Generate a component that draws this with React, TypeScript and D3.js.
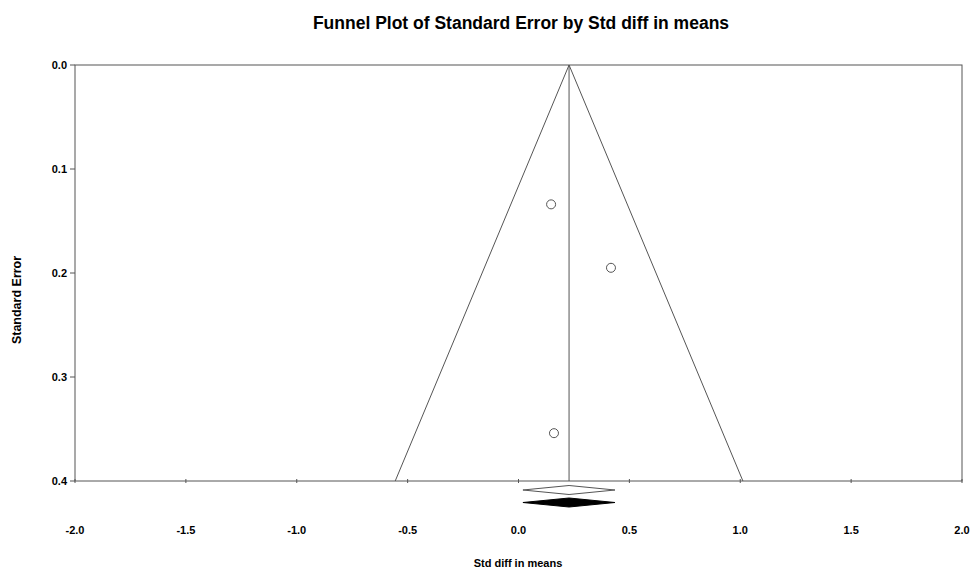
import React from "react";
import * as d3 from "d3";

const xTicks = [-2.0, -1.5, -1.0, -0.5, 0.0, 0.5, 1.0, 1.5, 2.0];
const yTicks = [0.0, 0.1, 0.2, 0.3, 0.4];
const studyEffects = [0.147, 0.417, 0.16];
const studySE = [0.134, 0.195, 0.354];
const pooledEffect = 0.228;
const pooledLower = 0.02;
const pooledUpper = 0.435;
const maxSE = 0.4;

export default function App() {
  const W = 970, H = 569;
  const x = d3.scaleLinear().domain([-2, 2]).range([75, 962]);
  const y = d3.scaleLinear().domain([0, 0.4]).range([65, 481]);
  const font = "Liberation Sans, Arial, sans-serif";
  const stroke = "#555";
  const funnel = [
    [x(pooledEffect - 1.96 * maxSE), y(maxSE)],
    [x(pooledEffect), y(0)],
    [x(pooledEffect + 1.96 * maxSE), y(maxSE)],
  ];
  const line = d3.line();
  const diamond = (cy: number, h: number) =>
    `M${x(pooledLower)},${cy} L${x(pooledEffect)},${cy - h} L${x(pooledUpper)},${cy} L${x(pooledEffect)},${cy + h} Z`;
  return (
    <svg width={W} height={H} style={{ position: "absolute", left: 0, top: 0 }}>
      <rect width={W} height={H} fill="#fff" />
      <text x={521} y={29} textAnchor="middle" fontFamily={font} fontWeight="bold" fontSize={17.5}>
        Funnel Plot of Standard Error by Std diff in means
      </text>
      <rect x={x(-2)} y={y(0)} width={x(2) - x(-2)} height={y(0.4) - y(0)} fill="none" stroke={stroke} strokeWidth={1} />
      {yTicks.map((t) => (
        <g key={t}>
          <line x1={x(-2) - 5} x2={x(-2)} y1={y(t)} y2={y(t)} stroke={stroke} />
          <text x={x(-2) - 8} y={y(t) + 4} textAnchor="end" fontFamily={font} fontWeight="bold" fontSize={11}>
            {t.toFixed(1)}
          </text>
        </g>
      ))}
      {xTicks.map((t) => (
        <g key={t}>
          <line x1={x(t)} x2={x(t)} y1={y(0.4) - 2} y2={y(0.4) + 2} stroke={stroke} />
          <text x={x(t)} y={534} textAnchor="middle" fontFamily={font} fontWeight="bold" fontSize={11}>
            {t.toFixed(1)}
          </text>
        </g>
      ))}
      <path d={line(funnel as [number, number][]) || ""} fill="none" stroke={stroke} strokeWidth={1} />
      <line x1={x(pooledEffect)} x2={x(pooledEffect)} y1={y(0)} y2={y(0.4)} stroke={stroke} />
      {studyEffects.map((e, i) => (
        <circle key={i} cx={x(e)} cy={y(studySE[i])} r={4.5} fill="#fff" stroke={stroke} strokeWidth={1} />
      ))}
      <path d={diamond(490, 4.5)} fill="#fff" stroke={stroke} strokeWidth={1} />
      <path d={diamond(502.5, 4.5)} fill="#000" stroke="#000" strokeWidth={1} />
      <text x={518} y={567} textAnchor="middle" fontFamily={font} fontWeight="bold" fontSize={11}>
        Std diff in means
      </text>
      <text transform={`translate(20.5,300) rotate(-90)`} textAnchor="middle" fontFamily={font} fontWeight="bold" fontSize={12.5}>
        Standard Error
      </text>
    </svg>
  );
}
